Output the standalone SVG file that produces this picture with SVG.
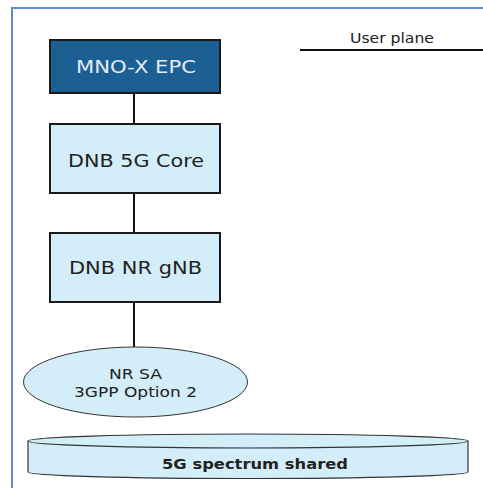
<svg xmlns="http://www.w3.org/2000/svg" width="483" height="488" viewBox="0 0 483 488">
  <style>
    .box { fill: #d3eef9; stroke: #1a1a1a; stroke-width: 2; }
    .dark { fill: #1c5f93; stroke: #1a1a1a; stroke-width: 2; }
    .lbl { font-family: "DejaVu Sans", "Liberation Sans", sans-serif; font-size: 17.5px; fill: #222; }
    .lbl-light { fill: #e3ebf3; }
    .sub { font-family: "DejaVu Sans", "Liberation Sans", sans-serif; font-size: 14.5px; fill: #222; }
    .small { font-family: "DejaVu Sans", "Liberation Sans", sans-serif; font-size: 13.5px; fill: #222; }
    .link { stroke: #111; stroke-width: 2; fill: none; }
  </style>
  <rect width="483" height="488" fill="#ffffff"/>
  <!-- frame -->
  <path d="M12 490 V8 H485" fill="none" stroke="#5b8bd0" stroke-width="2"/>

  <!-- legend -->
  <g id="legend">
    <text class="small" x="350" y="42.5" textLength="84" lengthAdjust="spacingAndGlyphs">User plane</text>
    <line x1="300" y1="50" x2="483" y2="50" stroke="#111" stroke-width="2"/>
  </g>

  <g id="connectors">
    <line class="link" x1="134" y1="93" x2="134" y2="124"/>
    <line class="link" x1="134" y1="193" x2="134" y2="233"/>
    <line class="link" x1="134" y1="302" x2="134" y2="347"/>
  </g>

  <g id="mno-epc">
    <rect class="dark" x="50" y="40" width="170" height="53"/>
    <text class="lbl lbl-light" x="76" y="72.5" textLength="120" lengthAdjust="spacingAndGlyphs">MNO-X EPC</text>
  </g>

  <g id="dnb-core">
    <rect class="box" x="50" y="124" width="170" height="69"/>
    <text class="lbl" x="68" y="166.5" textLength="136" lengthAdjust="spacingAndGlyphs">DNB 5G Core</text>
  </g>

  <g id="dnb-gnb">
    <rect class="box" x="50" y="233" width="170" height="69"/>
    <text class="lbl" x="69" y="274" textLength="133" lengthAdjust="spacingAndGlyphs">DNB NR gNB</text>
  </g>

  <g id="nr-sa">
    <ellipse cx="135.5" cy="382" rx="112" ry="35" fill="#d3eef9" stroke="#333" stroke-width="1"/>
    <text class="sub" x="109" y="379" textLength="53" lengthAdjust="spacingAndGlyphs">NR SA</text>
    <text class="sub" x="74" y="396.5" textLength="123" lengthAdjust="spacingAndGlyphs">3GPP Option 2</text>
  </g>

  <g id="spectrum">
    <path d="M28 441 V472 A220 6.5 0 0 0 468 472 V441" fill="#d3eef9" stroke="#333" stroke-width="1.2"/>
    <ellipse cx="248" cy="441" rx="220" ry="7" fill="#d3eef9" stroke="#333" stroke-width="1.2"/>
    <text class="sub" x="162" y="469" textLength="186" lengthAdjust="spacingAndGlyphs" style="font-weight:bold;font-size:14px">5G spectrum shared</text>
  </g>
</svg>
